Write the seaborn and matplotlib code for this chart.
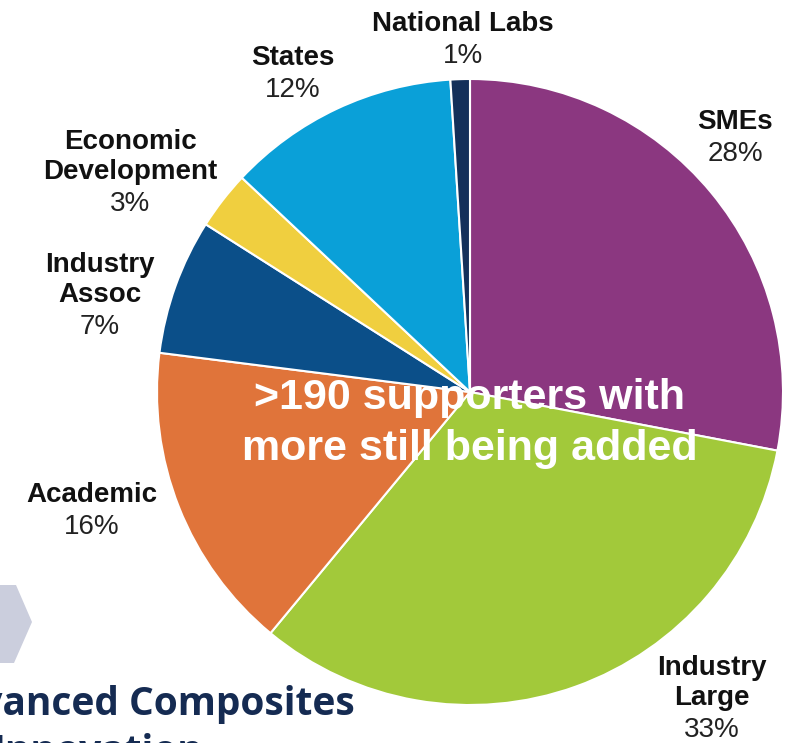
import matplotlib
matplotlib.use("Agg")
import matplotlib.pyplot as plt
from matplotlib.patches import Polygon
import seaborn as sns

sns.set_theme(style="white")
plt.rcParams["font.family"] = ["Liberation Sans", "DejaVu Sans"]

# Supporter breakdown, clockwise from 12 o'clock
categories = ["SMEs", "Industry\nLarge", "Academic", "Industry\nAssoc",
              "Economic\nDevelopment", "States", "National Labs"]
shares = [28, 33, 16, 7, 3, 12, 1]
colors = ["#8B3780", "#A2C93A", "#E0743A", "#0B4F89",
          "#F0CF3F", "#0AA0D8", "#14305A"]

# label anchor (pixel x, pixel y of the first line) for each category
label_pos = [(735, 122), (712, 668), (92, 495), (100, 265),
             (130, 142), (293, 58), (463, 24)]

W, H = 786, 743
fig = plt.figure(figsize=(W / 100, H / 100), dpi=100)
fig.patch.set_facecolor("white")

cx, cy, r = 470, 392, 313
ax = fig.add_axes([(cx - r) / W, (H - cy - r) / H, 2 * r / W, 2 * r / H])
ax.pie(shares, colors=colors, startangle=90, counterclock=False,
       wedgeprops=dict(edgecolor="white", linewidth=1.5))
ax.set_xlim(-1, 1)
ax.set_ylim(-1, 1)
ax.set_aspect("equal")
ax.axis("off")

line_h = 30
for name, val, (px, py) in zip(categories, shares, label_pos):
    lines = name.split("\n")
    for i, ln in enumerate(lines):
        fig.text(px / W, 1 - (py + i * line_h) / H, ln, ha="center", va="center",
                 fontsize=20, fontweight="bold", color="#111111")
    fig.text(px / W, 1 - (py + len(lines) * line_h + 2) / H, f"{val}%",
             ha="center", va="center", fontsize=20, color="#222222")

# headline across the pie
fig.text(cx / W, 1 - 398 / H, ">190 supporters with", ha="center", va="center",
         fontsize=31, fontweight="bold", color="white")
fig.text(cx / W, 1 - 449 / H, "more still being added", ha="center", va="center",
         fontsize=31, fontweight="bold", color="white")

# organisation mark, lower left
mark = Polygon([(0 / W, 1 - 585 / H), (16 / W, 1 - 585 / H), (32 / W, 1 - 622 / H),
                (14 / W, 1 - 663 / H), (0 / W, 1 - 663 / H)],
               closed=True, transform=fig.transFigure, facecolor="#CBCEDD",
               edgecolor="none")
fig.patches.append(mark)
fig.text(355 / W, 1 - 705 / H, "Advanced Composites", ha="right", va="center",
         fontsize=28, fontweight="bold", color="#152B52", family=["Open Sans", "DejaVu Sans"])
fig.text(-8 / W, 1 - 752 / H, "Innovation", ha="left", va="center",
         fontsize=28, fontweight="bold", color="#152B52", family=["Open Sans", "DejaVu Sans"])

fig.savefig("out.png", dpi=100)
